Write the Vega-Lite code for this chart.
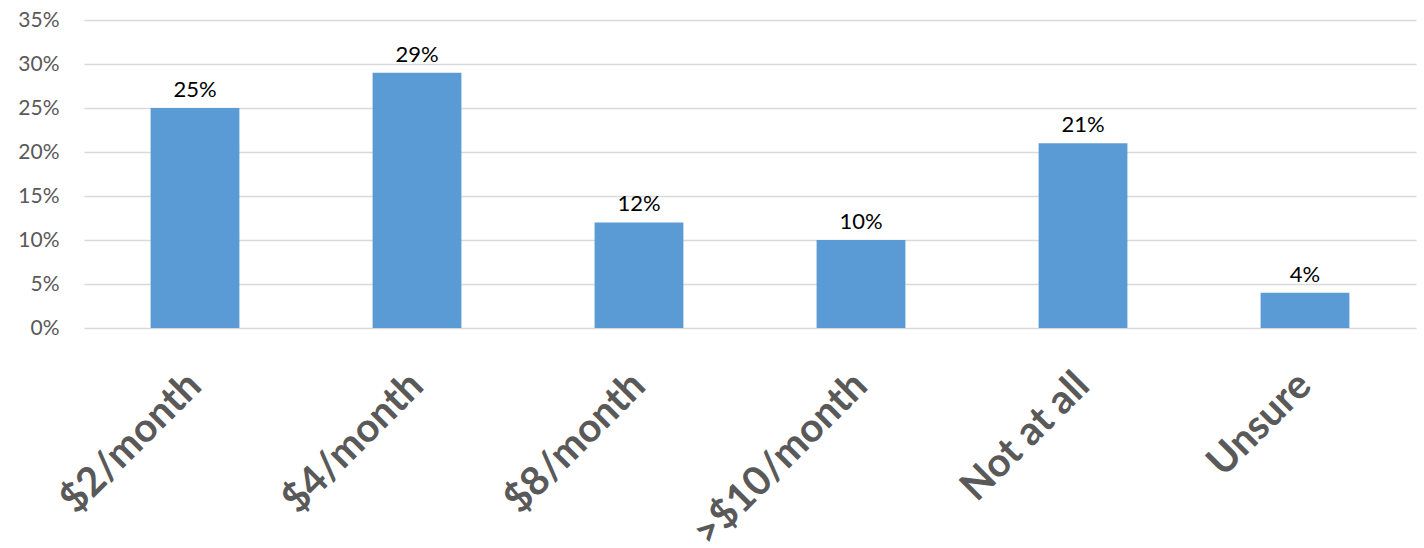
{
  "$schema": "https://vega.github.io/schema/vega-lite/v6.json",
  "autosize": {"type": "none"},
  "width": 1332,
  "height": 308,
  "padding": {"left": 84, "top": 20, "right": 8, "bottom": 220},
  "background": "#ffffff",
  "config": {
    "view": {"stroke": null},
    "font": "Lato"
  },
  "data": {
    "values": [
      {"option": "$2/month", "share": 0.25},
      {"option": "$4/month", "share": 0.29},
      {"option": "$8/month", "share": 0.12},
      {"option": ">$10/month", "share": 0.10},
      {"option": "Not at all", "share": 0.21},
      {"option": "Unsure", "share": 0.04}
    ]
  },
  "encoding": {
    "x": {
      "field": "option",
      "type": "nominal",
      "sort": null,
      "scale": {"paddingInner": 0.6, "paddingOuter": 0.3},
      "axis": {
        "title": null,
        "labelAngle": -45,
        "labelAlign": "right",
        "labelBaseline": "middle",
        "labelFont": "Lato",
        "labelFontWeight": "bold",
        "labelFontSize": 40,
        "labelColor": "#595959",
        "labelPadding": 51,
        "labelOverlap": false,
        "labelLimit": 400,
        "ticks": false,
        "domain": false,
        "grid": false
      }
    },
    "y": {
      "field": "share",
      "type": "quantitative",
      "scale": {"domain": [0, 0.35], "nice": false},
      "axis": {
        "title": null,
        "values": [0, 0.05, 0.1, 0.15, 0.2, 0.25, 0.3, 0.35],
        "format": ".0%",
        "labelFont": "Lato",
        "labelFontSize": 21,
        "labelColor": "#595959",
        "labelPadding": 25,
        "ticks": false,
        "domain": false,
        "grid": true,
        "gridColor": "#d9d9d9",
        "gridWidth": 1.5
      }
    }
  },
  "layer": [
    {
      "mark": {"type": "bar", "color": "#5b9bd5"}
    },
    {
      "mark": {
        "type": "text",
        "baseline": "alphabetic",
        "dy": -11,
        "fontSize": 22,
        "font": "Lato",
        "color": "#000000"
      },
      "encoding": {
        "text": {"field": "share", "type": "quantitative", "format": ".0%"}
      }
    }
  ]
}
